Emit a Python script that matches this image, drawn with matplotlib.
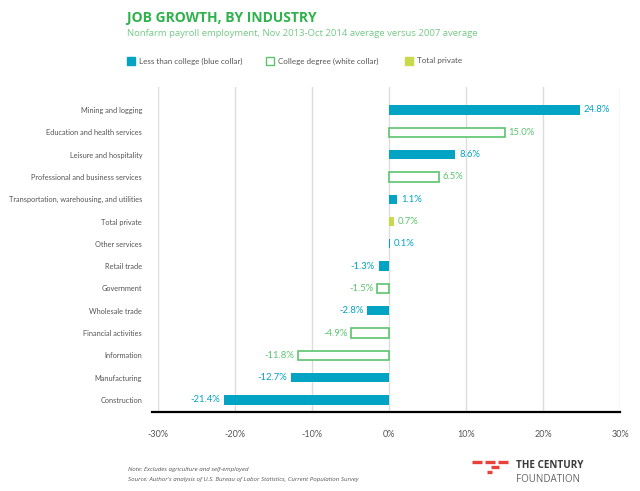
import matplotlib
matplotlib.use("Agg")
import matplotlib.pyplot as plt
from matplotlib.lines import Line2D
from matplotlib.patches import Rectangle

categories = ["Mining and logging", "Education and health services", "Leisure and hospitality",
              "Professional and business services", "Transportation, warehousing, and utilities",
              "Total private", "Other services", "Retail trade", "Government", "Wholesale trade",
              "Financial activities", "Information", "Manufacturing", "Construction"]
values = [24.8, 15.0, 8.6, 6.5, 1.1, 0.7, 0.1, -1.3, -1.5, -2.8, -4.9, -11.8, -12.7, -21.4]
groups = ["blue", "white", "blue", "white", "blue", "total", "blue", "blue", "white", "blue",
          "white", "white", "blue", "blue"]
xticks = [-30, -20, -10, 0, 10, 20, 30]
xticklabels = ["-30%", "-20%", "-10%", "0%", "10%", "20%", "30%"]
legend_labels = ["Less than college (blue collar)", "College degree (white collar)", "Total private"]

BLUE = "#03A3C3"
GREEN = "#5CC46E"
LIME = "#C8DA4B"
TITLE_GREEN = "#2EB24B"
SUB_GREEN = "#74C986"
GREY = "#555555"

plt.rcParams['font.family'] = ['Open Sans', 'DejaVu Sans']
NARROW = ['Lato', 'DejaVu Sans']

fig = plt.figure(figsize=(6.4, 4.91), dpi=100)
ax = fig.add_axes([158/640, 1-412/491, (620-158)/640, (412-87)/491])

h = 0.42
for i, (v, g) in enumerate(zip(values, groups)):
    if g == "blue":
        ax.barh(i, v, height=h, color=BLUE, zorder=3)
        tc = BLUE
    elif g == "total":
        ax.barh(i, v, height=h, color=LIME, zorder=3)
        tc = GREEN
    else:
        ax.barh(i, v, height=h, facecolor="white", edgecolor=GREEN, linewidth=1.2, zorder=3)
        tc = GREEN
    off = 0.5 if v >= 0 else -0.5
    ax.text(v + off, i, f"{v:.1f}%", ha="left" if v >= 0 else "right", va="center",
            fontsize=6.8, color=tc, family=NARROW)

ax.set_xlim(-30, 30)
ax.set_ylim(13.54, -1.03)
ax.set_xticks(xticks)
ax.set_xticklabels(xticklabels, fontsize=6.5, color=GREY, family=NARROW)
ax.tick_params(axis="x", length=0, pad=13)
ax.set_yticks(range(len(categories)))
ax.set_yticklabels(categories, fontsize=5.3, color=GREY, family=NARROW)
ax.tick_params(axis="y", length=0, pad=11.5)
ax.grid(axis="x", color="#dddddd", linewidth=1.0, zorder=0)
for s in ["left", "right", "top", "bottom"]:
    ax.spines[s].set_visible(False)
ax.add_line(Line2D([-0.013, 1.0], [0, 0], transform=ax.transAxes, color="black",
                   linewidth=1.6, clip_on=False, zorder=4))

# Title / subtitle
fig.text(127/640, 1-18/491, "JOB GROWTH, BY INDUSTRY", fontsize=10, fontweight="bold",
         color=TITLE_GREEN, va="center", ha="left")
fig.text(127/640, 1-34/491, "Nonfarm payroll employment, Nov 2013-Oct 2014 average versus 2007 average",
         fontsize=6.8, color=SUB_GREEN, va="center", ha="left")

# Legend
leg_x = [127, 266, 405]
styles = [dict(facecolor=BLUE, edgecolor=BLUE), dict(facecolor="white", edgecolor=GREEN),
          dict(facecolor=LIME, edgecolor=LIME)]
for x, lab, st in zip(leg_x, legend_labels, styles):
    fig.patches.append(Rectangle((x/640, 1-65/491), 8/640, 8/491, transform=fig.transFigure,
                                 linewidth=1.0, **st))
    fig.text((x+12)/640, 1-61/491, lab, fontsize=5.8, color=GREY, va="center", ha="left",
             family=NARROW)

# Notes
fig.text(128/640, 1-469/491, "Note: Excludes agriculture and self-employed", fontsize=4.4,
         style="italic", color=GREY, va="center")
fig.text(128/640, 1-479/491,
         "Source: Author's analysis of U.S. Bureau of Labor Statistics, Current Population Survey",
         fontsize=4.4, style="italic", color=GREY, va="center")

# Logo
RED = "#E8413A"
for (x0, x1, y) in [(472, 482, 462), (485, 495, 462), (498, 508, 462), (491, 499, 467), (487, 492, 472)]:
    fig.add_artist(Line2D([x0/640, x1/640], [1-y/491, 1-y/491], color=RED, linewidth=2.4,
                          solid_capstyle="butt"))
fig.text(516/640, 1-465/491, "THE CENTURY", fontsize=7.1, fontweight="bold", color="#3a3a3a",
         va="center", ha="left")
fig.text(516/640, 1-480/491, "FOUNDATION", fontsize=7.1, color="#666666", va="center", ha="left")

fig.savefig("out.png", dpi=100, facecolor="white")
